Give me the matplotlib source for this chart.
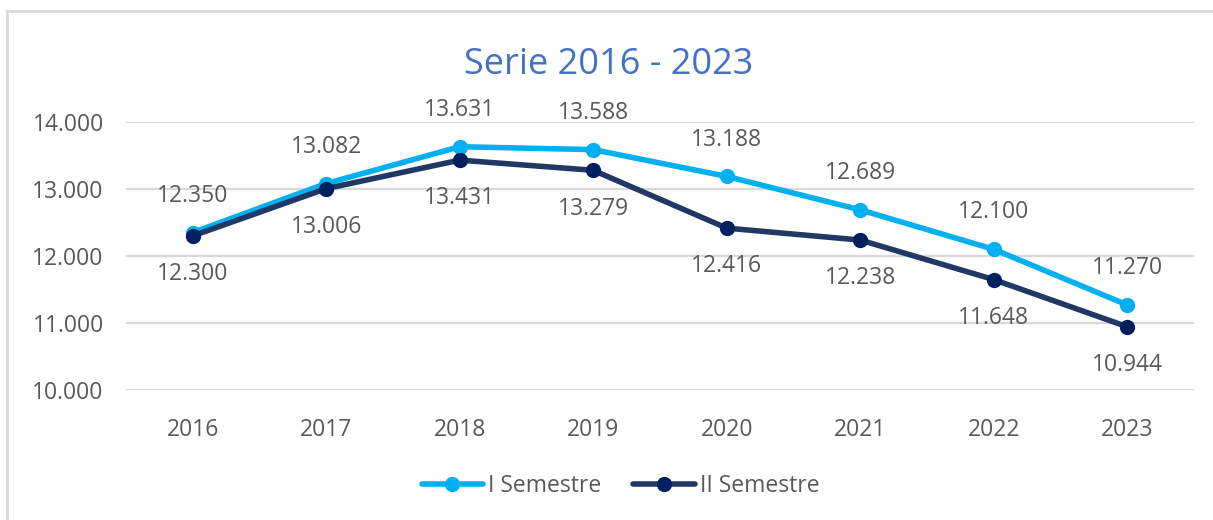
import matplotlib
matplotlib.use("Agg")
import matplotlib.pyplot as plt
from matplotlib.patches import Rectangle

plt.rcParams['font.family'] = ['Open Sans', 'DejaVu Sans']

years = ['2016', '2017', '2018', '2019', '2020', '2021', '2022', '2023']
sem1 = [12350, 13082, 13631, 13588, 13188, 12689, 12100, 11270]
sem2 = [12300, 13006, 13431, 13279, 12416, 12238, 11648, 10944]
yticks = [10000, 11000, 12000, 13000, 14000]
title = 'Serie 2016 - 2023'
series_names = ['I Semestre', 'II Semestre']

def fmt(v):
    return f"{v:,}".replace(',', '.')

W, H = 1213, 520
fig = plt.figure(figsize=(W / 100, H / 100), dpi=100)
ax = fig.add_axes([126 / W, 1 - 390 / H, (1194 - 126) / W, (390 - 122) / H])

c1 = '#00B0F0'
c2_line = '#203864'
c2_mark = '#002060'
grey = '#595959'

x = list(range(len(years)))
ax.plot(x, sem1, color=c1, lw=4, marker='o', ms=10, mfc=c1, mec=c1,
        label=series_names[0], zorder=3, solid_capstyle='round')
ax.plot(x, sem2, color=c2_line, lw=4, marker='o', ms=10, mfc=c2_mark, mec=c2_mark,
        label=series_names[1], zorder=4, solid_capstyle='round')

for xi, v in zip(x, sem1):
    ax.annotate(fmt(v), (xi, v), xytext=(0, 26.5), textcoords='offset points',
                ha='center', va='center', fontsize=16.5, color=grey)
for xi, v in zip(x, sem2):
    ax.annotate(fmt(v), (xi, v), xytext=(0, -27.5), textcoords='offset points',
                ha='center', va='center', fontsize=16.5, color=grey)

ax.set_xlim(-0.5, len(years) - 0.5)
ax.set_ylim(10000, 14000)
ax.set_yticks(yticks)
ax.set_yticklabels([fmt(v) for v in yticks])
ax.set_xticks(x)
ax.set_xticklabels(years)
ax.tick_params(axis='both', length=0, labelsize=16.5, labelcolor=grey)
ax.tick_params(axis='y', pad=16)
ax.tick_params(axis='x', pad=20)
ax.grid(axis='y', color='#D9D9D9', lw=1.6)
ax.set_axisbelow(True)
for s in ax.spines.values():
    s.set_visible(False)

fig.text(0.5 + 2 / W, 1 - 65 / H, title, ha='center', va='center', fontsize=26, color='#4472C4')

fig.legend(loc='center', bbox_to_anchor=(0.5 + 14 / W, 1 - 486 / H), ncol=2, frameon=False,
           fontsize=16.5, labelcolor=grey, handlelength=2.7, handletextpad=0.2,
           columnspacing=1.4)

fig.add_artist(Rectangle((7 / W, -0.5), 2, 1.5 - 11 / H, transform=fig.transFigure,
                         fill=False, edgecolor='#D9D9D9', lw=2, clip_on=False))

fig.savefig('out.png', dpi=100)
